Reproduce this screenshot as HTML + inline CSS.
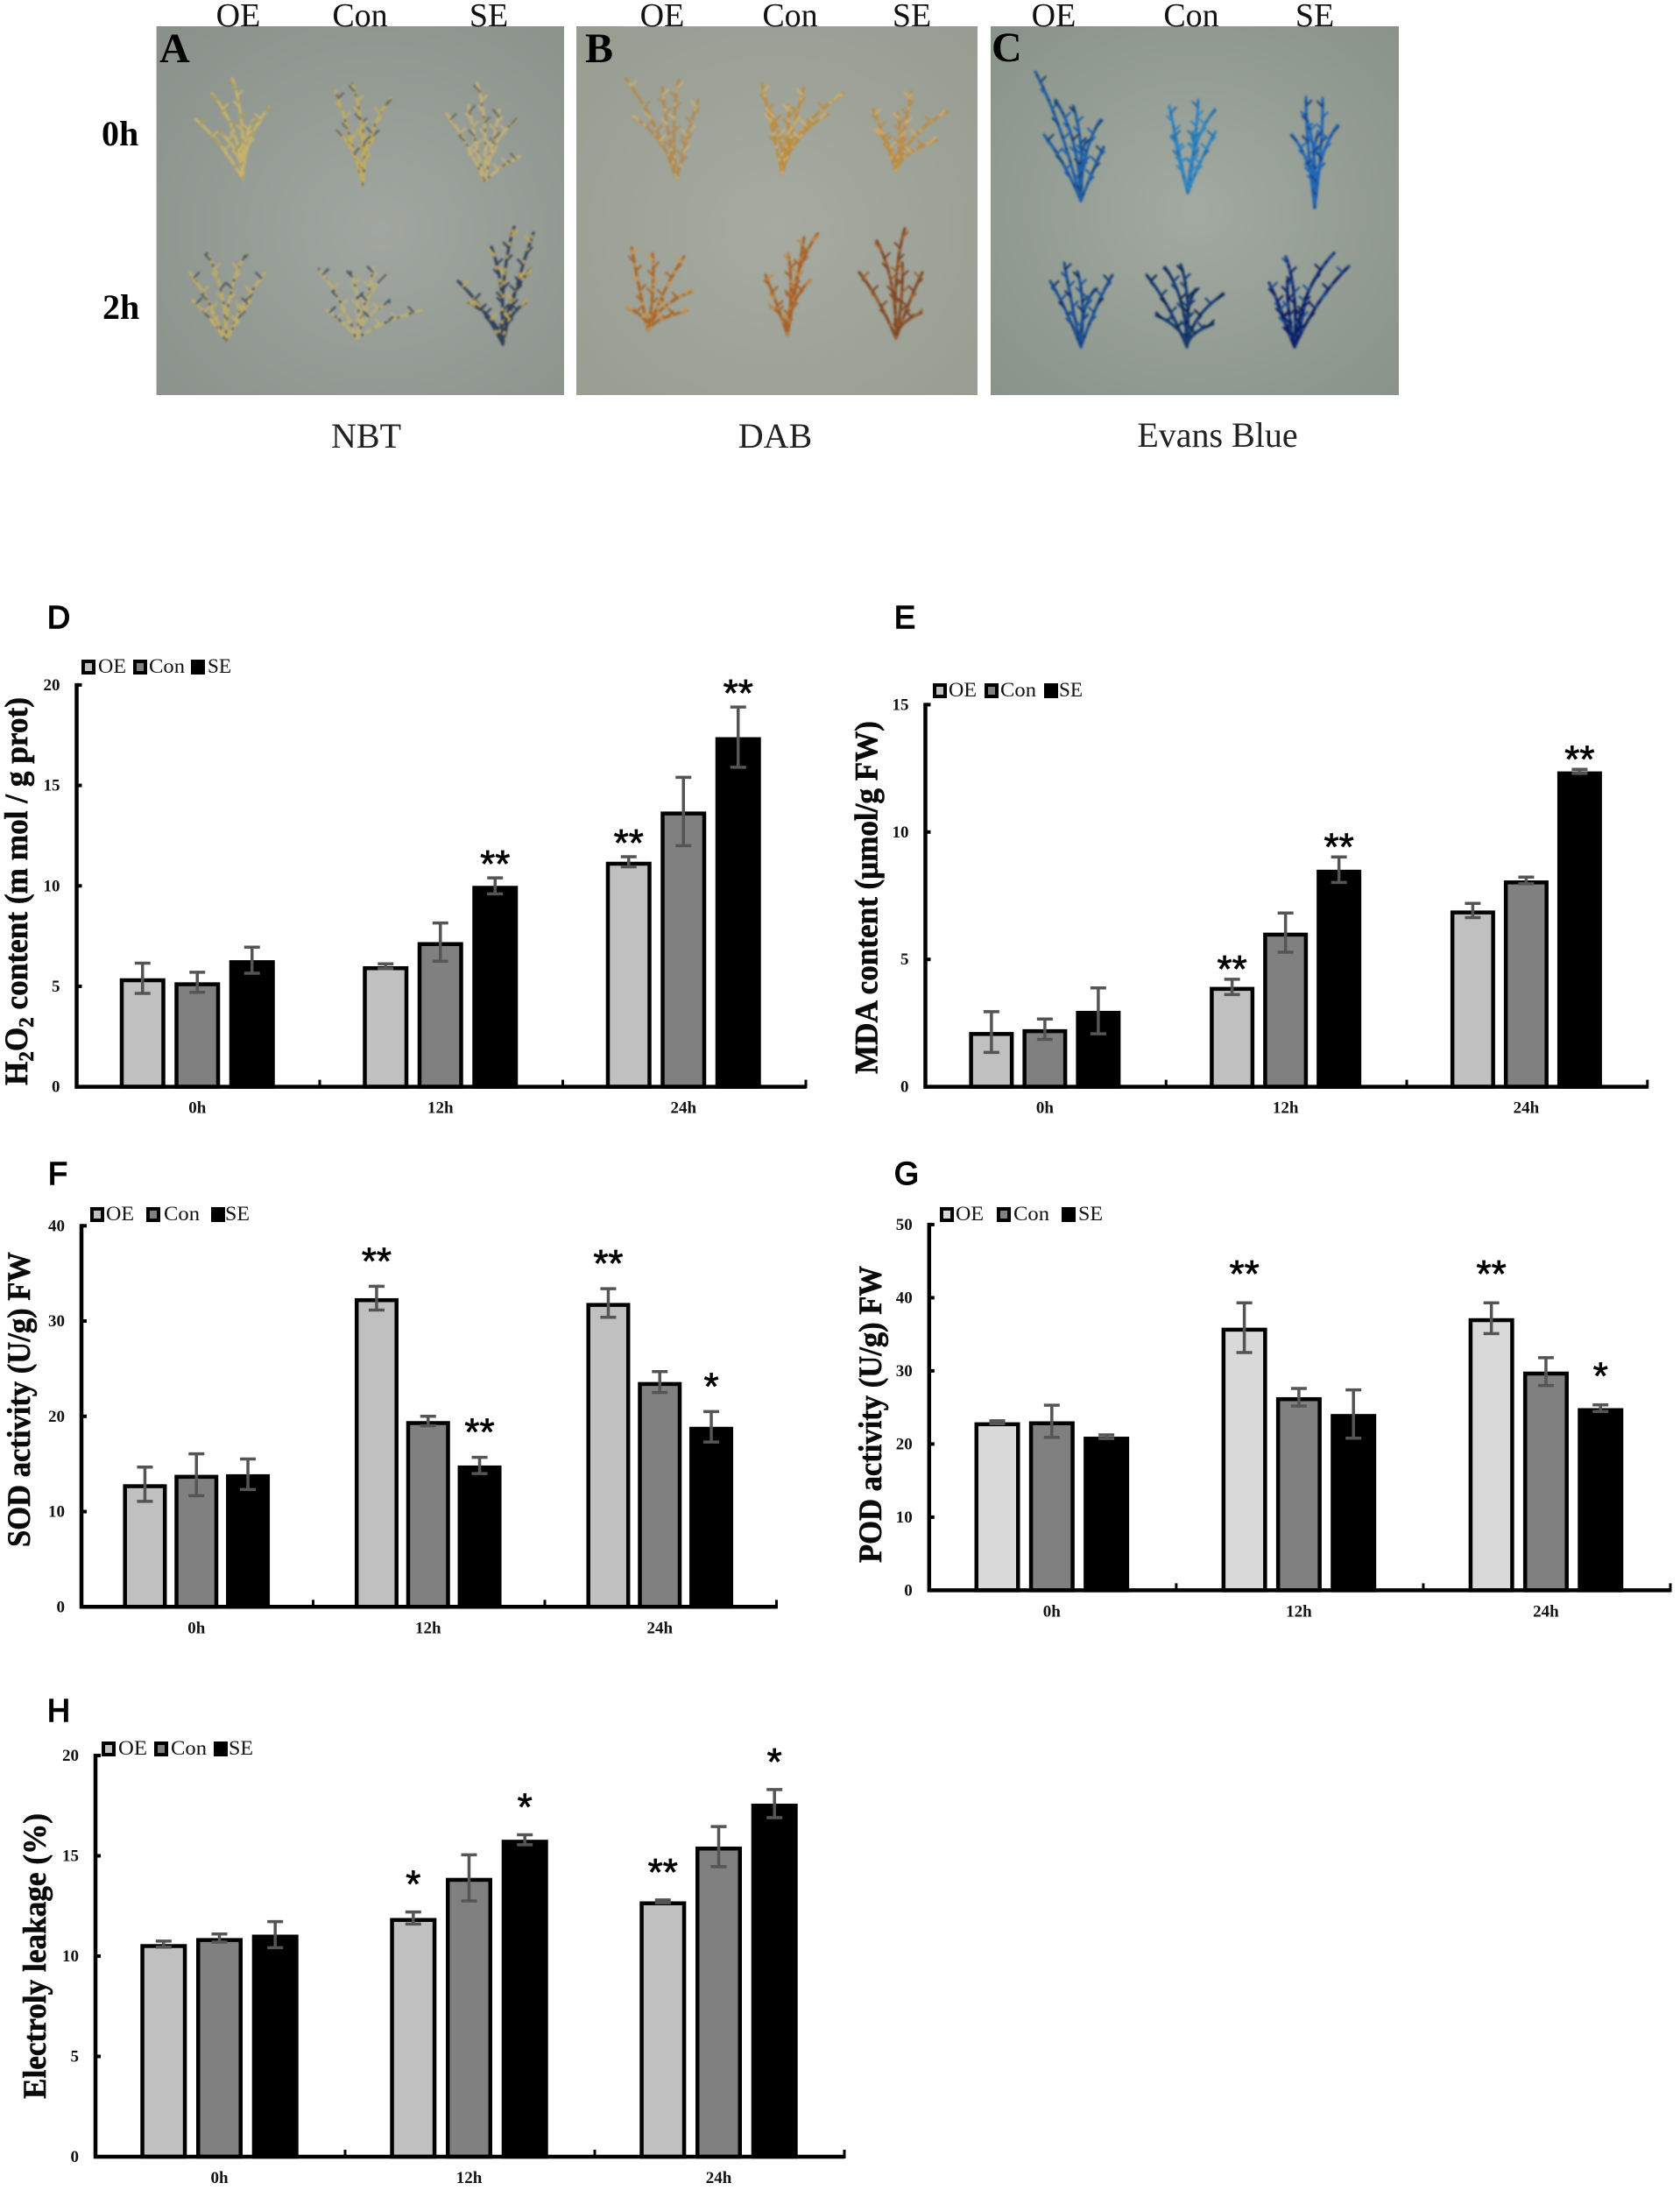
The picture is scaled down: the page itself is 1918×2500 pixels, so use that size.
<!DOCTYPE html>
<html lang="en">
<head>
<meta charset="utf-8">
<title>ROS staining and oxidative stress measurements</title>
<style>
html,body{margin:0;padding:0;background:#fff}
svg{display:block}
.s{font-family:"Liberation Serif",serif}
.b{font-family:"Liberation Serif",serif;font-weight:bold}
.lg{font-family:"Liberation Serif",serif;font-size:23px;fill:#111}
.yt{font-family:"Liberation Serif",serif;font-weight:bold;font-size:37px;fill:#0a0a0a;stroke:#0a0a0a;stroke-width:.6}
.pl{font-family:"Liberation Sans",sans-serif;font-size:36px;fill:#000;stroke:#000;stroke-width:1.5}
.hd{font-family:"Liberation Serif",serif;font-size:38px;fill:#111}
.st{font-family:"Liberation Serif",serif;font-size:40px;fill:#222}
.ph{font-family:"Liberation Serif",serif;font-weight:bold;fill:#000}
</style>
</head>
<body>
<svg id="fig" xmlns="http://www.w3.org/2000/svg" width="1918" height="2500" viewBox="0 0 1918 2500">
<defs>
<radialGradient id="gA" cx="55%" cy="55%" r="75%"><stop offset="0" stop-color="#a1a7a0"/><stop offset="1" stop-color="#8a918a"/></radialGradient>
<radialGradient id="gB" cx="50%" cy="55%" r="75%"><stop offset="0" stop-color="#a6aaa0"/><stop offset="1" stop-color="#979c91"/></radialGradient>
<radialGradient id="gC" cx="50%" cy="50%" r="75%"><stop offset="0" stop-color="#a2aaa1"/><stop offset="1" stop-color="#879188"/></radialGradient>
<filter id="soft" x="-5%" y="-5%" width="110%" height="110%"><feGaussianBlur stdDeviation="1"/></filter>
</defs>

<g>
<rect x="178.6" y="30" width="465.4" height="421" fill="url(#gA)"/>
<rect x="658" y="30" width="458" height="421" fill="url(#gB)"/>
<rect x="1131" y="30" width="466" height="421" fill="url(#gC)"/>
<g id="plants" filter="url(#soft)"></g>
<text class="ph" x="182" y="71" font-size="48">A</text>
<text class="ph" x="668" y="71" font-size="48">B</text>
<text class="ph" x="1132" y="70" font-size="48">C</text>
<text class="ph" x="116" y="166" font-size="40">0h</text>
<text class="ph" x="117" y="364" font-size="40">2h</text>
<g text-anchor="middle">
<text class="hd" x="272" y="30">OE</text>
<text class="hd" x="411" y="30">Con</text>
<text class="hd" x="558" y="30">SE</text>
<text class="hd" x="756" y="30">OE</text>
<text class="hd" x="902" y="30">Con</text>
<text class="hd" x="1041" y="30">SE</text>
<text class="hd" x="1203" y="30">OE</text>
<text class="hd" x="1360" y="30">Con</text>
<text class="hd" x="1501" y="30">SE</text>
<text class="st" x="418" y="511">NBT</text>
<text class="st" x="885" y="511">DAB</text>
<text class="st" x="1390" y="510" font-size="41">Evans Blue</text>
</g>
</g>

<g>
<text class="pl" x="54" y="717">D</text>
<text class="pl" x="1021" y="717">E</text>
<text class="pl" x="55" y="1352">F</text>
<text class="pl" x="1021" y="1352">G</text>
<text class="pl" x="54" y="1965">H</text>
</g>

<g>
<text class="yt" transform="translate(31,1239) rotate(-90)" textLength="443" lengthAdjust="spacingAndGlyphs">H<tspan font-size="24" dy="7">2</tspan><tspan dy="-7">O</tspan><tspan font-size="24" dy="7">2</tspan><tspan dy="-7"> content (m mol / g prot)</tspan></text>
<text class="yt" transform="translate(1001.5,1226) rotate(-90)" textLength="403" lengthAdjust="spacingAndGlyphs">MDA content (μmol/g FW)</text>
<text class="yt" transform="translate(34,1766) rotate(-90)" textLength="337" lengthAdjust="spacingAndGlyphs">SOD activity (U/g) FW</text>
<text class="yt" transform="translate(1006,1784) rotate(-90)" textLength="339" lengthAdjust="spacingAndGlyphs">POD activity (U/g) FW</text>
<text class="yt" transform="translate(52,2396) rotate(-90)" textLength="326" lengthAdjust="spacingAndGlyphs">Electroly leakage (%)</text>
</g>

<g>
<rect x="95" y="755" width="12" height="13" fill="#c0c0c0" stroke="#000" stroke-width="4"/><text class="lg" x="112" y="768" textLength="32" lengthAdjust="spacingAndGlyphs">OE</text>
<rect x="154" y="755" width="12" height="13" fill="#808080" stroke="#000" stroke-width="4"/><text class="lg" x="170" y="768" textLength="41" lengthAdjust="spacingAndGlyphs">Con</text>
<rect x="220" y="755" width="12" height="13" fill="#000" stroke="#000" stroke-width="4"/><text class="lg" x="237" y="768" textLength="27" lengthAdjust="spacingAndGlyphs">SE</text>
</g>
<g>
<rect x="1067" y="782" width="12" height="13" fill="#c0c0c0" stroke="#000" stroke-width="4"/><text class="lg" x="1083" y="795" textLength="32" lengthAdjust="spacingAndGlyphs">OE</text>
<rect x="1126" y="782" width="12" height="13" fill="#808080" stroke="#000" stroke-width="4"/><text class="lg" x="1142" y="795" textLength="41" lengthAdjust="spacingAndGlyphs">Con</text>
<rect x="1194" y="782" width="12" height="13" fill="#000" stroke="#000" stroke-width="4"/><text class="lg" x="1209" y="795" textLength="27" lengthAdjust="spacingAndGlyphs">SE</text>
</g>
<g>
<rect x="105" y="1380" width="12" height="13" fill="#c0c0c0" stroke="#000" stroke-width="4"/><text class="lg" x="121" y="1393" textLength="32" lengthAdjust="spacingAndGlyphs">OE</text>
<rect x="169" y="1380" width="12" height="13" fill="#808080" stroke="#000" stroke-width="4"/><text class="lg" x="187" y="1393" textLength="41" lengthAdjust="spacingAndGlyphs">Con</text>
<rect x="243" y="1380" width="12" height="13" fill="#000" stroke="#000" stroke-width="4"/><text class="lg" x="257" y="1393" textLength="28" lengthAdjust="spacingAndGlyphs">SE</text>
</g>
<g>
<rect x="1075" y="1380" width="12" height="13" fill="#d9d9d9" stroke="#000" stroke-width="4"/><text class="lg" x="1091" y="1393" textLength="32" lengthAdjust="spacingAndGlyphs">OE</text>
<rect x="1140" y="1380" width="12" height="13" fill="#808080" stroke="#000" stroke-width="4"/><text class="lg" x="1157" y="1393" textLength="41" lengthAdjust="spacingAndGlyphs">Con</text>
<rect x="1214" y="1380" width="12" height="13" fill="#000" stroke="#000" stroke-width="4"/><text class="lg" x="1231" y="1393" textLength="28" lengthAdjust="spacingAndGlyphs">SE</text>
</g>
<g>
<rect x="118" y="1990" width="12" height="13" fill="#c0c0c0" stroke="#000" stroke-width="4"/><text class="lg" x="135" y="2003" textLength="33" lengthAdjust="spacingAndGlyphs">OE</text>
<rect x="178" y="1990" width="12" height="13" fill="#808080" stroke="#000" stroke-width="4"/><text class="lg" x="195" y="2003" textLength="41" lengthAdjust="spacingAndGlyphs">Con</text>
<rect x="246" y="1990" width="12" height="13" fill="#000" stroke="#000" stroke-width="4"/><text class="lg" x="261" y="2003" textLength="28" lengthAdjust="spacingAndGlyphs">SE</text>
</g>

<g id="charts"></g>
</svg>

<script>
// ---------- chart data ----------
const categories = ['0h', '12h', '24h'];
const seriesNames = ['oe', 'con', 'se'];

const dTicks = [0, 5, 10, 15, 20];
const dOE = [5.4, 6.0, 11.2];
const dCon = [5.2, 7.2, 13.7];
const dSE = [6.3, 10.0, 17.4];
const dOEErr = [0.75, 0.12, 0.25];
const dConErr = [0.5, 0.95, 1.7];
const dSEErr = [0.65, 0.4, 1.5];
const dOESig = ['', '', '**'];
const dConSig = ['', '', ''];
const dSESig = ['', '**', '**'];

const eTicks = [0, 5, 10, 15];
const eOE = [2.15, 3.92, 6.92];
const eCon = [2.26, 6.05, 8.1];
const eSE = [2.98, 8.52, 12.38];
const eOEErr = [0.8, 0.3, 0.28];
const eConErr = [0.4, 0.77, 0.13];
const eSEErr = [0.9, 0.5, 0.08];
const eOESig = ['', '**', ''];
const eConSig = ['', '', ''];
const eSESig = ['', '**', '**'];

const fTicks = [0, 10, 20, 30, 40];
const fOE = [12.87, 32.4, 31.9];
const fCon = [13.86, 19.5, 23.6];
const fSE = [13.92, 14.84, 18.9];
const fOEErr = [1.8, 1.25, 1.5];
const fConErr = [2.2, 0.5, 1.1];
const fSEErr = [1.6, 0.85, 1.6];
const fOESig = ['', '**', '**'];
const fConSig = ['', '', ''];
const fSESig = ['', '**', '*'];

const gTicks = [0, 10, 20, 30, 40, 50];
const gOE = [22.97, 35.9, 37.2];
const gCon = [23.1, 26.4, 29.9];
const gSE = [21.0, 24.1, 24.9];
const gOEErr = [0.2, 3.4, 2.1];
const gConErr = [2.2, 1.2, 1.9];
const gSEErr = [0.25, 3.3, 0.45];
const gOESig = ['', '**', '**'];
const gConSig = ['', '', ''];
const gSESig = ['', '', '*'];

const hTicks = [0, 5, 10, 15, 20];
const hOE = [10.6, 11.9, 12.73];
const hCon = [10.9, 13.9, 15.46];
const hSE = [11.07, 15.8, 17.6];
const hOEErr = [0.15, 0.3, 0.07];
const hConErr = [0.2, 1.15, 1.0];
const hSEErr = [0.65, 0.25, 0.7];
const hOESig = ['', '*', '**'];
const hConSig = ['', '', ''];
const hSESig = ['', '*', '*'];

// ---------- chart layout ----------
const NS = 'http://www.w3.org/2000/svg';
function mk(tag, attrs, parent) {
  const el = document.createElementNS(NS, tag);
  for (const k in attrs) el.setAttribute(k, attrs[k]);
  parent.appendChild(el);
  return el;
}

const panels = [
  { key: 'h2o2', x0: 87.5, x1: 920, yTop: 781.9, yBot: 1240.6, step: 62.5, barW: 52, oeFill: '#c0c0c0', starGap: 24,
    ticks: dTicks, vals: [dOE, dCon, dSE], errs: [dOEErr, dConErr, dSEErr], sigs: [dOESig, dConSig, dSESig] },
  { key: 'mda', x0: 1056.5, x1: 1880.8, yTop: 804.4, yBot: 1240.6, step: 61, barW: 51, oeFill: '#c0c0c0', starGap: 20,
    ticks: eTicks, vals: [eOE, eCon, eSE], errs: [eOEErr, eConErr, eSEErr], sigs: [eOESig, eConSig, eSESig] },
  { key: 'sod', x0: 93, x1: 886.5, yTop: 1399.3, yBot: 1834.3, step: 58.8, barW: 50, oeFill: '#c0c0c0', starGap: 37,
    ticks: fTicks, vals: [fOE, fCon, fSE], errs: [fOEErr, fConErr, fSEErr], sigs: [fOESig, fConSig, fSESig] },
  { key: 'pod', x0: 1060.8, x1: 1907, yTop: 1397.9, yBot: 1815.4, step: 62.3, barW: 52, oeFill: '#d9d9d9', starGap: 41,
    ticks: gTicks, vals: [gOE, gCon, gSE], errs: [gOEErr, gConErr, gSEErr], sigs: [gOESig, gConSig, gSESig] },
  { key: 'electrolyte', x0: 109, x1: 964, yTop: 2004, yBot: 2462, step: 63.7, barW: 53, oeFill: '#c0c0c0', starGap: 40,
    ticks: hTicks, vals: [hOE, hCon, hSE], errs: [hOEErr, hConErr, hSEErr], sigs: [hOESig, hConSig, hSESig] }
];

const chartsRoot = document.getElementById('charts');

panels.forEach(function (p) {
  const maxV = p.ticks[p.ticks.length - 1];
  const yScale = function (v) { return p.yBot - (v / maxV) * (p.yBot - p.yTop); };
  const groupW = (p.x1 - p.x0) / categories.length;
  const xScale = function (i) { return p.x0 + (i + 0.5) * groupW - 1; };

  const g = mk('g', {}, chartsRoot);
  
  

  // bars
  p.vals.forEach(function (series, s) {
    const fill = s === 0 ? p.oeFill : (s === 1 ? '#808080' : '#000000');
    series.forEach(function (v, i) {
      const cx = xScale(i) + (s - 1) * p.step;
      const top = yScale(v);
      const bar = mk('rect', { x: cx - p.barW / 2 + 2.25, y: top + 2.25, width: p.barW - 4.5, height: Math.max(0, p.yBot - top - 2.25), fill: fill, stroke: '#000', 'stroke-width': 4.5 }, g);
      
      
    });
  });

  // error bars
  p.vals.forEach(function (series, s) {
    series.forEach(function (v, i) {
      const cx = xScale(i) + (s - 1) * p.step;
      const hi = yScale(v + p.errs[s][i]);
      const lo = yScale(v - p.errs[s][i]);
      const eb = mk('path', { d: 'M' + cx + ' ' + hi + 'V' + lo + 'M' + (cx - 9) + ' ' + hi + 'H' + (cx + 9) + 'M' + (cx - 9) + ' ' + lo + 'H' + (cx + 9), fill: 'none', stroke: '#555', 'stroke-width': 3.5 }, g);
      
      
    });
  });

  // significance stars
  p.sigs.forEach(function (series, s) {
    series.forEach(function (txt, i) {
      if (!txt) return;
      const cx = xScale(i) + (s - 1) * p.step;
      const topV = p.vals[s][i] + p.errs[s][i];
      const star = mk('text', { x: cx, y: yScale(topV) - p.starGap + 23, 'text-anchor': 'middle', 'font-family': '"Liberation Sans", sans-serif', 'font-size': 44, fill: '#000', stroke: '#000', 'stroke-width': 0.8 }, g);
      star.textContent = txt;
      
      
    });
  });

  // axes
  const yAxis = mk('line', { x1: p.x0, x2: p.x0, y1: p.yTop - 2, y2: p.yBot + 2, stroke: '#000', 'stroke-width': 4.5 }, g);
  
  

  const xAxis = mk('line', { x1: p.x0 - 2, x2: p.x1, y1: p.yBot, y2: p.yBot, stroke: '#000', 'stroke-width': 4.5 }, g);
  
  

  // y ticks and labels
  p.ticks.forEach(function (t) {
    const y = yScale(t);
    const tick = mk('line', { x1: p.x0, x2: p.x0 + 6, y1: y, y2: y, stroke: '#000', 'stroke-width': 4 }, g);
    
    
    const lab = mk('text', { x: p.x0 - 19, y: y + 6, 'text-anchor': 'end', 'font-family': '"Liberation Serif", serif', 'font-weight': 'bold', 'font-size': 19, fill: '#111' }, g);
    lab.textContent = t;
    
    
  });

  // x ticks and labels
  categories.forEach(function (c, i) {
    const tx = p.x0 + (i + 1) * groupW;
    const tick = mk('line', { x1: tx, x2: tx, y1: p.yBot - 8, y2: p.yBot + 2, stroke: '#000', 'stroke-width': 3 }, g);
    
    
    const lab = mk('text', { x: xScale(i), y: p.yBot + 30, 'text-anchor': 'middle', 'font-family': '"Liberation Serif", serif', 'font-weight': 'bold', 'font-size': 19, fill: '#111' }, g);
    lab.textContent = c;
    
    
  });
});
</script>

<script>
// ---------- stained seedling illustrations (photo panels, not chart data) ----------
(function () {
  const plantDefs = [
    // name, base x, base y, main colour, accent colour, tips
    ['nbt-oe-0h', 277, 204, '#c6b26c', '#a8985e', [[223,136],[265,89],[309,121],[242,107],[290,136],[250,150]]],
    ['nbt-con-0h', 414, 211, '#c0ab60', '#5f6468', [[383,104],[402,95],[446,112],[385,150],[430,150],[410,130]]],
    ['nbt-se-0h', 553, 207, '#c2b078', '#6a6a60', [[510,130],[545,95],[590,136],[593,179],[535,120],[570,125]]],
    ['nbt-oe-2h', 258, 389, '#bfac68', '#465868', [[217,311],[236,289],[281,289],[303,311],[220,343],[285,343]]],
    ['nbt-con-2h', 408, 386, '#b9ad78', '#3f5068', [[364,307],[427,304],[440,314],[481,354],[373,354],[400,310],[445,345]]],
    ['nbt-se-2h', 574, 393, '#2f3f58', '#c4a850', [[523,321],[561,282],[587,259],[609,266],[606,307],[535,345],[600,345]]],
    ['dab-oe-0h', 772, 204, '#ad8a55', '#c8ae78', [[714,89],[721,132],[775,91],[797,114],[756,100],[785,150]]],
    ['dab-con-0h', 893, 198, '#ba8c40', '#d0b070', [[870,96],[918,100],[963,107],[878,125],[945,130],[900,120]]],
    ['dab-se-0h', 1023, 195, '#b88c48', '#d0aa68', [[997,125],[1040,105],[1082,127],[1000,150],[1070,160],[1025,130]]],
    ['dab-oe-2h', 740, 377, '#a8682c', '#c89858', [[721,282],[781,293],[791,332],[717,352],[785,355],[745,290]]],
    ['dab-con-2h', 899, 382, '#a5622a', '#c08848', [[874,314],[918,271],[934,266],[880,350],[925,320],[900,290]]],
    ['dab-se-2h', 1023, 386, '#7e4a28', '#a06430', [[981,311],[1001,275],[1033,261],[1053,311],[1052,357],[1030,300]]],
    ['evans-oe-0h', 1234, 229, '#1f5fa8', '#1c3f60', [[1182,82],[1205,114],[1257,136],[1260,168],[1192,154],[1225,120],[1240,160]]],
    ['evans-con-0h', 1356, 220, '#2f86c4', '#2a6aa0', [[1335,121],[1368,114],[1387,125],[1388,150],[1340,150],[1362,150]]],
    ['evans-se-0h', 1501, 237, '#2268b8', '#1f3f78', [[1491,111],[1510,112],[1527,143],[1475,154],[1505,150],[1490,130]]],
    ['evans-oe-2h', 1234, 396, '#1a4f96', '#15305a', [[1215,300],[1270,314],[1199,321],[1230,310],[1250,330]]],
    ['evans-con-2h', 1355, 396, '#143a70', '#0e2340', [[1309,314],[1348,302],[1397,336],[1330,305],[1385,370],[1320,360],[1365,330]]],
    ['evans-se-2h', 1478, 396, '#0f1c60', '#1e4c98', [[1449,323],[1468,293],[1523,289],[1540,304],[1470,320],[1490,340],[1460,350]]]
  ];
  const NSP = 'http://www.w3.org/2000/svg';
  const root = document.getElementById('plants');
  function add(tag, attrs, parent) {
    const el = document.createElementNS(NSP, tag);
    for (const k in attrs) el.setAttribute(k, attrs[k]);
    parent.appendChild(el);
    return el;
  }
  plantDefs.forEach(function (d) {
    const g = add('g', { fill: 'none', 'stroke-linecap': 'round' }, root);
    
    
    const bx = d[1], by = d[2];
    d[5].forEach(function (t, n) {
      const bend = n % 2 ? 7 : -7;
      const mx = bx + (t[0] - bx) * 0.3 + bend, my = by + (t[1] - by) * 0.62;
      const path = 'M' + bx + ' ' + by + 'Q' + mx + ' ' + my + ' ' + t[0] + ' ' + t[1];
      add('path', { d: path, stroke: d[3], 'stroke-width': 3.2, 'stroke-dasharray': '5 1.5' }, g);
      add('path', { d: path, stroke: d[4], 'stroke-width': 2.4, 'stroke-dasharray': '2 13', 'stroke-dashoffset': n * 3 }, g);
      [0.3, 0.42, 0.54, 0.66, 0.78, 0.9].forEach(function (f, k) {
        const a = 2 * (1 - f) * f, b = f * f, c = (1 - f) * (1 - f);
        const px = c * bx + a * mx + b * t[0], py = c * by + a * my + b * t[1];
        const side = (k + n) % 2 ? 1 : -1;
        add('path', { d: 'M' + px + ' ' + py + 'l' + side * 6 + ' -6', stroke: k % 3 === 2 ? d[4] : d[3], 'stroke-width': 2.2 }, g);
      });
    });
  });
})();
</script>
</body>
</html>
